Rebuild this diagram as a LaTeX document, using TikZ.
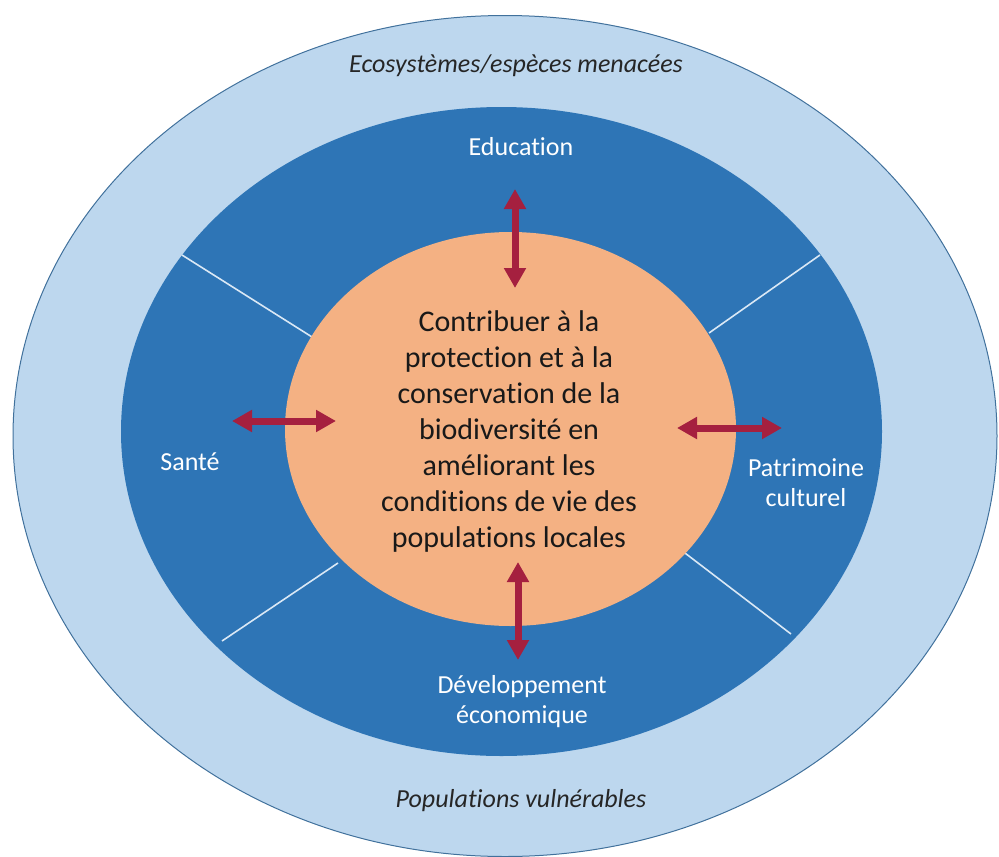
\documentclass[tikz,border=0pt]{standalone}
\usepackage{fontspec}
\setmainfont{Carlito}[Ligatures=NoCommon,RawFeature=-liga]
\usetikzlibrary{arrows.meta}
\definecolor{ringlight}{HTML}{BDD7EE}
\definecolor{ringdark}{HTML}{2E75B6}
\definecolor{corefill}{HTML}{F4B183}
\definecolor{rim}{HTML}{41719C}
\definecolor{arrowred}{HTML}{A5203F}
\definecolor{divider}{HTML}{DAE8F5}
\begin{document}
\begin{tikzpicture}[x=1pt,y=-1pt,
  seglabel/.style={font=\fontsize{26}{30}\selectfont, text=white, align=center, inner sep=0pt},
  outerlabel/.style={font=\fontsize{26}{31}\selectfont\itshape, text=black!85, inner sep=0pt},
  corelabel/.style={font=\fontsize{30}{36}\selectfont, text=black!90, align=center, inner sep=0pt},
  link/.style={draw=arrowred, line width=7pt, {Triangle[width=21pt,length=20pt]}-{Triangle[width=21pt,length=20pt]}},
  divline/.style={draw=divider, line width=1.6pt}]
\useasboundingbox (0,0) rectangle (999,857);
% rings
\fill[ringlight, draw=rim, line width=1pt] (505,436) ellipse [x radius=492pt, y radius=420.5pt];
\fill[ringdark] (501.5,431.5) ellipse [x radius=380.5pt, y radius=324.5pt];
% dividers
\coordinate (d1a) at (182,255); \coordinate (d1b) at (312,337);
\coordinate (d2a) at (222,641); \coordinate (d2b) at (338,563);
\coordinate (d3a) at (820,255); \coordinate (d3b) at (709,333);
\coordinate (d4a) at (791,634); \coordinate (d4b) at (681,550);
\draw[divline] (d1a) -- (d1b);
\draw[divline] (d2a) -- (d2b);
\draw[divline] (d3a) -- (d3b);
\draw[divline] (d4a) -- (d4b);
% core
\fill[corefill] (510.5,429) ellipse [x radius=225.5pt, y radius=197pt];
% texts
\node[corelabel] (core) at (509,431) {Contribuer à la\\protection et à la\\conservation de la\\biodiversité en\\améliorant les\\conditions de vie des\\populations locales};
\node[seglabel] (edu) at (521,147) {Education};
\node[seglabel] (sante) at (190,462) {Santé};
\node[seglabel] (patri) at (806,483) {Patrimoine\\culturel};
\node[seglabel] (dev) at (522,702) {Développement\\économique};
\node[outerlabel] (eco) at (516,66) {Ecosystèmes/espèces menacées};
\node[outerlabel] (pop) at (521,801) {Populations vulnérables};
% arrows
\coordinate (at1) at (515,189); \coordinate (at2) at (515,288);
\coordinate (ab1) at (518,562); \coordinate (ab2) at (518,660);
\coordinate (al1) at (232,421); \coordinate (al2) at (336,421);
\coordinate (ar1) at (677,428); \coordinate (ar2) at (782,428);
\draw[link] (at1) -- (at2);
\draw[link] (ab1) -- (ab2);
\draw[link] (al1) -- (al2);
\draw[link] (ar1) -- (ar2);
\end{tikzpicture}
\end{document}
